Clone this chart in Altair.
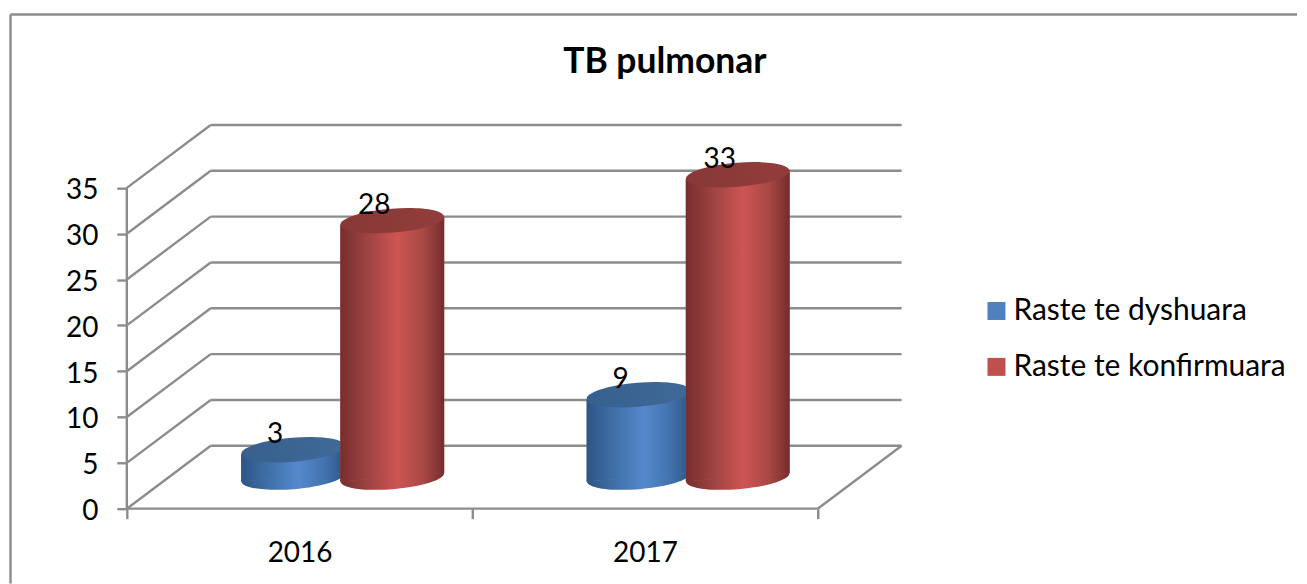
import altair as alt
import pandas as pd

years = ["2016", "2017"]
series_names = ["Raste te dyshuara", "Raste te konfirmuara"]
suspected = [3, 9]
confirmed = [28, 33]
y_ticks = [0, 5, 10, 15, 20, 25, 30, 35]
legend_colors = ["#4f81bd", "#c0504d"]

# Pixel geometry of the pseudo-3D frame
W, H = 1291, 576
PX_X, PX_Y = 346.0, 9.18          # pixels per category / per value
X0, Y0 = 127 - 8, 509 - 8         # origin inside the plot
DX, DY = 84 / PX_X, 63 / PX_Y     # depth vector in data units
OFFSET, HALF = 0.1435, 0.1503     # cylinder offset and half width
NUDGE = 1.2 / PX_X
A, B = 52.0, 12.0
ELLIPSE = f"M-1,0A1,{B/A:.4f},0,1,1,1,0A1,{B/A:.4f},0,1,1,-1,0Z"
SIZE = 4 * A * A
TILT = 355.4
SKEW = 4.2 / PX_Y
GRID = "#8c8c8c"
LINE = 2.4
FONT = "Lato"

rows = []
edges = []
for i, yr in enumerate(years):
    for s, (name, vals) in enumerate(zip(series_names, [suspected, confirmed])):
        c = i + 0.5 + DX / 2 + NUDGE + (OFFSET if s else -OFFSET)
        rows.append(dict(year=yr, series=name, value=vals[i], c=c, base=DY / 2, top=vals[i] + DY / 2))
        for side in (-1, 1):
            edges.append(dict(year=yr, series=name, ex=c + side * HALF,
                              ebase=DY / 2 + side * SKEW, etop=vals[i] + DY / 2 + side * SKEW))
df = pd.DataFrame(rows)
edge_df = pd.DataFrame(edges)

grid = pd.DataFrame(
    [dict(x=0, x2=DX, y=v, y2=v + DY) for v in y_ticks]
    + [dict(x=DX, x2=2 + DX, y=v + DY, y2=v + DY) for v in y_ticks]
    + [dict(x=2, x2=2 + DX, y=0, y2=DY), dict(x=0, x2=2, y=0, y2=0), dict(x=0, x2=0, y=0, y2=35)]
)

xscale = alt.Scale(domain=[-X0 / PX_X, (W - X0) / PX_X], nice=False, zero=False)
yscale = alt.Scale(domain=[(Y0 - H) / PX_Y, Y0 / PX_Y], nice=False, zero=False)

x_axis = alt.Axis(
    values=[0, 0.5, 1, 1.5, 2], domain=False, grid=False, offset=-(H - Y0), tickSize=10, tickWidth=LINE,
    tickColor=GRID, tickOpacity={"condition": {"test": "datum.value % 1 == 0", "value": 1}, "value": 0},
    labelExpr=f"datum.value == 0.5 ? '{years[0]}' : datum.value == 1.5 ? '{years[1]}' : ''",
    labelFont=FONT, labelFontSize=28, labelColor="black", labelPadding=21, labelFlush=False, labelOverlap=False,
    title=None,
)
y_axis = alt.Axis(
    values=y_ticks, domain=False, grid=False, offset=-X0, tickSize=10, tickWidth=LINE, tickColor=GRID,
    labelFont=FONT, labelFontSize=28, labelColor="black", labelPadding=19, labelFlush=False, labelOverlap=False,
    labelOffset=3, title=None,
)


def X(f):
    return alt.X(f, type="quantitative", scale=xscale, axis=x_axis)


def Y(f):
    return alt.Y(f, type="quantitative", scale=yscale, axis=y_axis)


frame = alt.Chart(grid).mark_rule(color=GRID, strokeWidth=LINE).encode(x=X("x"), x2="x2", y=Y("y"), y2="y2")
border_l = alt.Chart(pd.DataFrame({"k": [0]})).mark_rule(color=GRID, strokeWidth=LINE).encode(
    x=alt.value(2.5), y=alt.value(6), y2=alt.value(H)
)
border_t = alt.Chart(pd.DataFrame({"k": [0]})).mark_rule(color=GRID, strokeWidth=LINE).encode(
    x=alt.value(2.5), x2=alt.value(W), y=alt.value(6)
)


def grad(stops):
    return alt.LinearGradient(
        gradient="linear", x1=0, x2=1, y1=0, y2=0,
        stops=[alt.GradientStop(color=c, offset=o) for o, c in stops],
    )


palette = {
    series_names[0]: dict(
        body=grad([(0, "#2d5585"), (0.3, "#4373ad"), (0.55, "#5489cd"), (0.8, "#4373ad"), (1, "#2d5585")]),
        top=grad([(0, "#38608f"), (1, "#3f6997")]),
    ),
    series_names[1]: dict(
        body=grad([(0, "#762e2d"), (0.3, "#a44644"), (0.55, "#cd5553"), (0.8, "#a84846"), (1, "#742c2b")]),
        top=grad([(0, "#873836"), (1, "#923d3c")]),
    ),
}

layers = [border_l, border_t, frame]
for name in series_names:
    d = df[df.series == name]
    e = edge_df[edge_df.series == name]
    p = palette[name]
    bottom = alt.Chart(d).mark_point(
        shape=ELLIPSE, filled=True, fill=p["body"], opacity=1, strokeWidth=0, angle=TILT, size=SIZE
    ).encode(x=X("c"), y=Y("base"))
    flat = alt.Chart(e).mark_area(opacity=1).encode(
        x=X("ex"), y=Y("etop"), y2="ebase", detail="year:N",
        color=alt.Color(
            "series:N",
            scale=alt.Scale(domain=series_names, range=legend_colors),
            legend=alt.Legend(
                title=None, orient="none", legendX=975, legendY=288, symbolType="square", symbolSize=324,
                symbolStrokeWidth=0, labelFont=FONT, labelFontSize=30, labelColor="black", labelOffset=2,
                rowPadding=26, labelLimit=400,
            ),
        ),
    )
    body = alt.Chart(e).mark_area(fill=p["body"], opacity=1).encode(
        x=X("ex"), y=Y("etop"), y2="ebase", detail="year:N"
    )
    top = alt.Chart(d).mark_point(
        shape=ELLIPSE, filled=True, fill=p["top"], opacity=1, strokeWidth=0, angle=TILT, size=SIZE
    ).encode(x=X("c"), y=Y("top"))
    layers += [bottom, flat, body, top]

labels = alt.Chart(df).mark_text(
    font=FONT, fontSize=28, color="black", align="center", baseline="middle", dx=-18, dy=-15
).encode(x=X("c"), y=Y("top"), text="value:Q")
layers.append(labels)

chart = alt.layer(*layers).properties(
    width=W, height=H, padding=0,
    title=alt.TitleParams(
        "TB pulmonar", anchor="start", dx=556, offset=-72, font=FONT, fontSize=35.5, fontWeight="bold", color="black"
    ),
).configure_view(strokeWidth=0)

chart.save("out.html", embed_options={"renderer": "svg", "actions": False})
